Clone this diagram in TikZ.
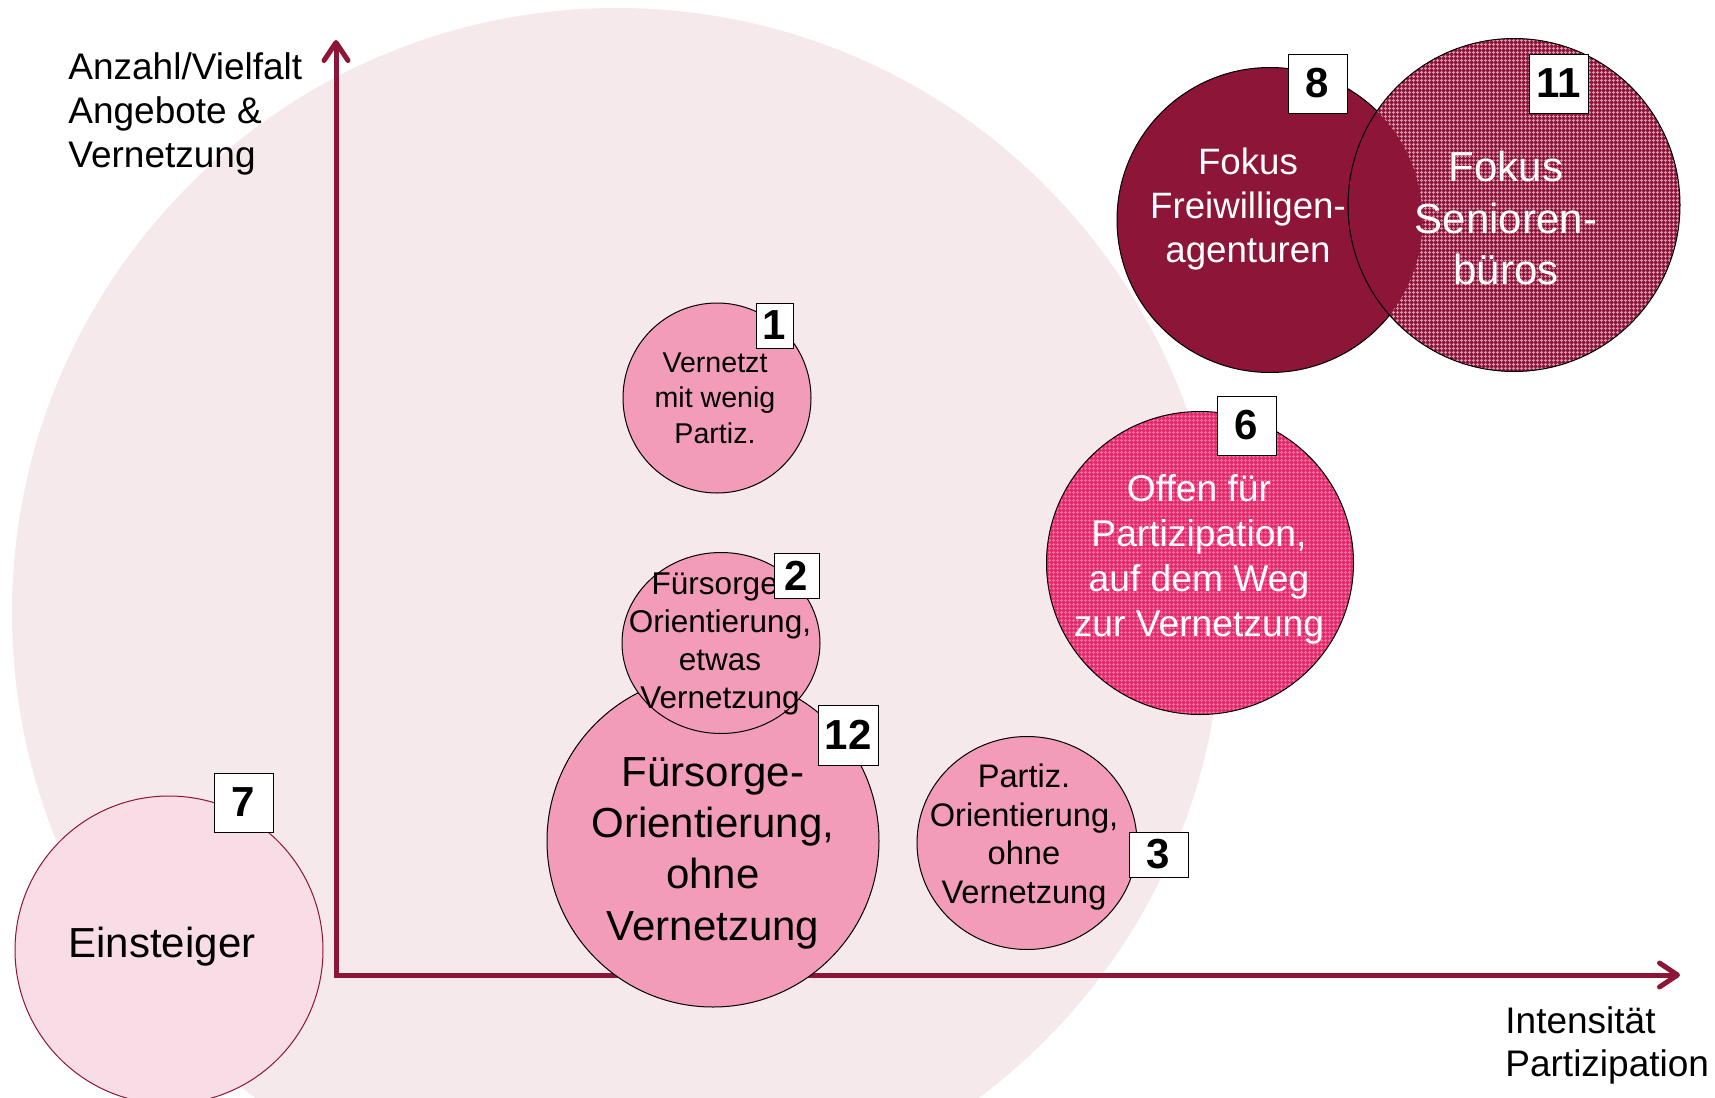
\documentclass[tikz,border=0pt]{standalone}
\usepackage{fontspec}
\setmainfont{Liberation Sans}
\usetikzlibrary{shapes.geometric,arrows.meta,patterns}

\definecolor{weinrot}{RGB}{140,21,56}
\definecolor{hintergrund}{RGB}{245,233,235}
\definecolor{rosa}{RGB}{242,156,186}
\definecolor{hellrosa}{RGB}{249,221,230}
\definecolor{pink}{RGB}{228,40,108}
\definecolor{pinkgitter}{RGB}{240,112,156}
\definecolor{weingitter}{RGB}{212,150,172}

\pgfdeclarepatternformonly{feingitter}{\pgfqpoint{0pt}{0pt}}{\pgfqpoint{2pt}{2pt}}{\pgfqpoint{2pt}{2pt}}{%
  \pgfsetlinewidth{0.5pt}
  \pgfpathmoveto{\pgfqpoint{0pt}{1pt}}\pgfpathlineto{\pgfqpoint{2pt}{1pt}}
  \pgfpathmoveto{\pgfqpoint{1pt}{0pt}}\pgfpathlineto{\pgfqpoint{1pt}{2pt}}
  \pgfusepath{stroke}}

\tikzset{
  kreis/.style={ellipse, draw=black, line width=0.5pt, inner sep=0pt, fill=rosa},
  nummer/.style={draw=black, fill=white, line width=0.5pt, inner sep=0pt,
    font=\fontsize{21}{25}\selectfont\bfseries, minimum width=29.5pt, minimum height=29.5pt},
  achse/.style={draw=weinrot, line width=2.5pt,
    {Straight Barb[length=9pt,width=12pt,round]}-{Straight Barb[length=9pt,width=12pt,round]}},
}

\begin{document}
\begin{tikzpicture}[x=0.5pt,y=-0.5pt]
\useasboundingbox (0,0) rectangle (1715,1098);
\clip (0,0) rectangle (1715,1098);
\fill[hintergrund] (617,613) circle [radius=605];

\coordinate (ursprung) at (336,975);
\coordinate (yspitze) at (336,40);
\coordinate (xspitze) at (1680,975);
\draw[achse] (yspitze) -- (ursprung) -- (xspitze);

\node[align=left, anchor=north west, inner sep=0pt, font=\fontsize{18.5}{22}\selectfont] (ytitel) at (68,52) {Anzahl/Vielfalt\\Angebote \&\\Vernetzung};
\node[align=left, anchor=north west, inner sep=0pt, font=\fontsize{18.5}{21.5}\selectfont] (xtitel) at (1505,1006) {Intensität\\Partizipation};

\node[kreis, fill=hellrosa, draw=weinrot, minimum width=154pt, minimum height=154pt] (k7) at (169,950) {};
\node[anchor=base, font=\fontsize{21}{25}\selectfont] (t7) at (162,957) {Einsteiger};

\node[kreis, minimum width=166pt, minimum height=166pt] (k12) at (713,841) {};
\node[align=center, font=\fontsize{21}{25.7}\selectfont] (t12) at (713,853) {Fürsorge-\\Orientierung,\\ohne\\Vernetzung};

\node[kreis, minimum width=99pt, minimum height=90.5pt] (k2) at (721,643) {};
\node[align=center, font=\fontsize{15.75}{19}\selectfont] (t2) at (720,643.5) {Fürsorge-\\Orientierung,\\etwas\\Vernetzung};

\node[kreis, minimum width=94pt, minimum height=95pt] (k1) at (717,398) {};
\node[align=center, font=\fontsize{14.3}{17.75}\selectfont] (t1) at (715,398) {Vernetzt\\mit wenig\\Partiz.};

\node[kreis, minimum width=110pt, minimum height=106.5pt] (k3) at (1027,843) {};
\node[align=center, font=\fontsize{16.3}{19.2}\selectfont] (t3) at (1024,837) {Partiz.\\Orientierung,\\ohne\\Vernetzung};

\node[kreis, preaction={fill=pink}, pattern=feingitter, pattern color=pinkgitter, minimum width=153.5pt, minimum height=151.5pt] (k6) at (1200,563) {};
\node[align=center, text=white, font=\fontsize{18.6}{22.4}\selectfont] (t6) at (1199,559.5) {Offen für\\Partizipation,\\auf dem Weg\\zur Vernetzung};

\node[kreis, fill=weinrot, minimum width=153pt, minimum height=152.5pt] (k8) at (1270,220) {};
\node[kreis, draw=none, preaction={fill=weinrot}, pattern=feingitter, pattern color=weingitter, minimum width=166pt, minimum height=166.5pt] (k11) at (1514,205) {};
\begin{scope}
\clip (1270,220) circle [radius=152.5];
\fill[weinrot] (1514,205) circle [radius=166.5];
\end{scope}
\draw[line width=0.5pt] (k11.center) ellipse [x radius=166, y radius=166.5];
\node[align=center, text=white, font=\fontsize{18.35}{22}\selectfont] (t8) at (1248,209) {Fokus\\Freiwilligen-\\agenturen};
\node[align=center, text=white, font=\fontsize{21}{25.75}\selectfont] (t11) at (1506,218) {Fokus\\Senioren-\\büros};

\node[nummer, minimum width=18.5pt, minimum height=22.5pt] (n1) at (774.5,325.5) {1};
\node[nummer, minimum width=22.5pt, minimum height=22.5pt] (n2) at (796.5,575.5) {2};
\node[nummer, minimum height=22.5pt] (n3) at (1158.5,854.5) {3};
\node[nummer] (n6) at (1246.5,425.5) {6};
\node[nummer] (n7) at (243.5,802.5) {7};
\node[nummer] (n8) at (1317.5,83.5) {8};
\node[nummer] (n11) at (1558.5,83.5) {11};
\node[nummer, minimum width=30pt, minimum height=30pt] (n12) at (848,735) {12};
\end{tikzpicture}
\end{document}
